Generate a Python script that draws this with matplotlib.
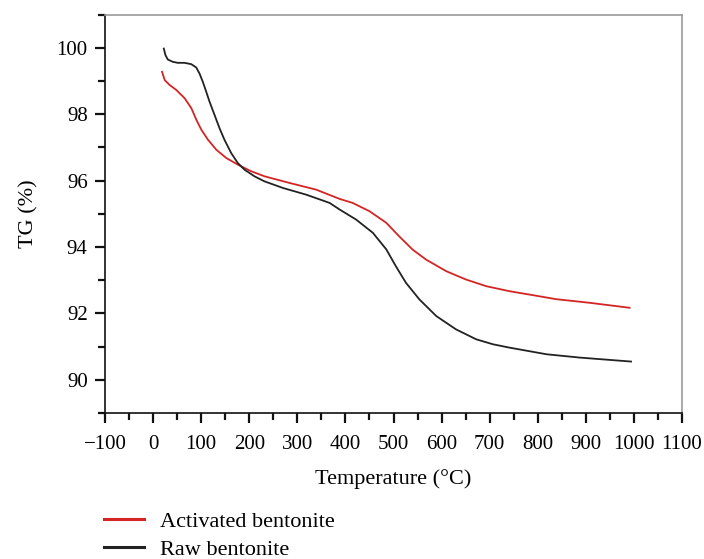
import matplotlib
matplotlib.use("Agg")
import matplotlib.pyplot as plt
from matplotlib.ticker import MultipleLocator

# Activated bentonite (red)
act_temp = [18.6, 24.2, 34.6, 48.5, 65.8, 79.7, 90.1, 100.5, 114.3, 131.6, 152.4, 176.6,
            204.5, 232, 284, 339, 388, 415, 450, 485, 512, 540, 568, 610, 651, 693,
            741, 790, 838, 908, 991]
act_tg = [99.28, 99.03, 98.88, 98.73, 98.48, 98.18, 97.83, 97.53, 97.23, 96.93, 96.68,
          96.48, 96.28, 96.13, 95.93, 95.73, 95.45, 95.33, 95.08, 94.73, 94.32, 93.92,
          93.62, 93.27, 93.02, 92.82, 92.67, 92.55, 92.43, 92.32, 92.17]

# Raw bentonite (black)
raw_temp = [22.3, 25.8, 30.6, 41, 51.4, 65.3, 79.3, 89.7, 96.5, 103.4, 110.5, 117.4,
            127.8, 138.2, 148.5, 162.5, 176.2, 190.2, 211, 231.5, 270, 318, 367, 388,
            422, 457, 485, 505, 526, 554, 589, 630, 672, 707, 741, 818, 887, 994]
raw_tg = [99.98, 99.78, 99.65, 99.58, 99.55, 99.55, 99.51, 99.41, 99.23, 98.98, 98.68,
          98.38, 97.98, 97.58, 97.23, 96.83, 96.53, 96.33, 96.13, 95.98, 95.78, 95.58,
          95.33, 95.13, 94.83, 94.43, 93.93, 93.42, 92.92, 92.42, 91.92, 91.52, 91.22,
          91.07, 90.97, 90.77, 90.67, 90.55]

plt.rcParams["font.family"] = ["Liberation Serif", "DejaVu Serif"]
plt.rcParams["font.size"] = 15

fig = plt.figure(figsize=(7.04, 5.59), dpi=100)
ax = fig.add_axes([105 / 704, 1 - 413 / 559, (682 - 105) / 704, (413 - 14.7) / 559])

ax.plot(act_temp, act_tg, color="#d42424", lw=1.3, label="Activated bentonite")
ax.plot(raw_temp, raw_tg, color="#222222", lw=1.3, label="Raw bentonite")

ax.set_xlim(-100, 1100)
ax.set_ylim(89, 101)
ax.xaxis.set_major_locator(MultipleLocator(100))
ax.xaxis.set_minor_locator(MultipleLocator(50))
ax.yaxis.set_minor_locator(MultipleLocator(1))
ax.set_yticks([90, 92, 94, 96, 98, 100])
ax.tick_params(which="major", direction="out", length=7.5, width=1.6, color="#111111")
ax.tick_params(which="minor", direction="out", length=5, width=1.6, color="#111111")
ax.tick_params(axis="x", pad=8)
ax.tick_params(axis="y", pad=5)

for side in ["left", "bottom"]:
    ax.spines[side].set_color("#111111")
    ax.spines[side].set_linewidth(1.2)
for side in ["top", "right"]:
    ax.spines[side].set_color("#9a9a9a")
    ax.spines[side].set_linewidth(1.2)

ax.set_xlabel("Temperature (°C)", fontsize=16, labelpad=11)
ax.set_ylabel("TG (%)", fontsize=16, labelpad=13)

leg = ax.legend(loc="upper left", bbox_to_anchor=(104 / 704, 1 - 511 / 559),
                bbox_transform=fig.transFigure, frameon=False, borderaxespad=0,
                borderpad=0, fontsize=16, handlelength=1.8, handletextpad=0.7,
                labelspacing=0.36)
for line in leg.get_lines():
    line.set_linewidth(2.2)

fig.savefig("out.png", dpi=100)
